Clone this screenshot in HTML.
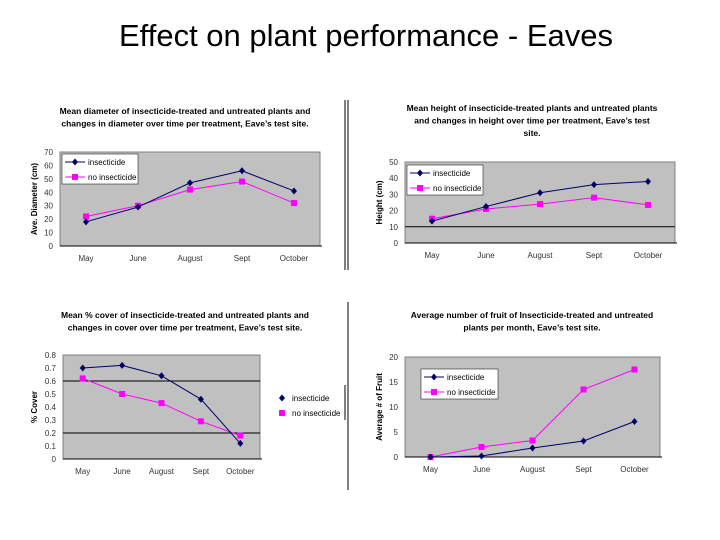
<!DOCTYPE html>
<html><head><meta charset="utf-8"><style>
body{margin:0;background:#fff;}
svg{display:block;font-family:"Liberation Sans",Arial,sans-serif;}
</style></head><body>
<svg id="s" width="720" height="540" xmlns="http://www.w3.org/2000/svg">
<text x="366" y="46" font-size="31" text-anchor="middle">Effect on plant performance - Eaves</text>
<line x1="345" y1="100" x2="345" y2="270" stroke="#000"/>
<line x1="348" y1="100" x2="348" y2="270" stroke="#000"/>
<line x1="348" y1="302" x2="348" y2="490" stroke="#000"/>
<line x1="345" y1="385" x2="345" y2="420" stroke="#000"/>
</svg>
<script>
const months=["May","June","August","Sept","October"];
const diamIns=[18,29,47,56,41];
const diamNo=[22,30,42,48,32];
const heightIns=[13.5,22.5,31,36,38];
const heightNo=[15,21,24,28,23.5];
const coverIns=[0.70,0.72,0.64,0.46,0.12];
const coverNo=[0.62,0.50,0.43,0.29,0.18];
const fruitIns=[0,0.2,1.8,3.2,7.1];
const fruitNo=[0,2.0,3.3,13.5,17.5];
const diamTicks=[0,10,20,30,40,50,60,70];
const heightTicks=[0,10,20,30,40,50];
const coverTicks=[0,0.1,0.2,0.3,0.4,0.5,0.6,0.7,0.8];
const fruitTicks=[0,5,10,15,20];

const svg=document.getElementById('s');
const NS='http://www.w3.org/2000/svg';
function mk(tag,attrs,parent){const e=document.createElementNS(NS,tag);for(const k in attrs)e.setAttribute(k,attrs[k]);(parent||svg).appendChild(e);return e;}

function chart(c){
  const g=mk('g',{});
  
  
  const {x0,x1,y0,y1,max}=c;
  const sx=i=>x0+(x1-x0)*(i+0.5)/months.length;
  const sy=v=>y1-(y1-y0)*v/max;
  c.title.forEach((t,i)=>{const e=mk('text',{x:c.tx,y:c.ty+i*12.5,'font-size':8.5,'font-weight':'bold','text-anchor':'middle'},g);e.textContent=t;
    });
  const r=mk('rect',{x:x0,y:y0,width:x1-x0,height:y1-y0,fill:'#c0c0c0',stroke:'#808080','stroke-width':1},g);
  
  (c.grid||[]).forEach(v=>{const l=mk('line',{x1:x0,x2:x1,y1:sy(v),y2:sy(v),stroke:'#000','stroke-width':1},g);
    });
  mk('line',{x1:x0,x2:x1+2,y1:y1,y2:y1,stroke:'#000'},g);
  c.ticks.forEach(v=>{const e=mk('text',{x:x0-7,y:sy(v)+3,'font-size':8,'text-anchor':'end',fill:'#333'},g);e.textContent=String(v);
    });
  months.forEach((m,i)=>{const e=mk('text',{x:sx(i),y:y1+15,'font-size':8,'text-anchor':'middle',fill:'#333'},g);e.textContent=m;
    });
  const yt=mk('text',{x:0,y:0,'font-size':8,'font-weight':'bold','text-anchor':'middle',transform:`translate(${c.ytx},${(y0+y1)/2}) rotate(-90)`},g);
  yt.textContent=c.ytitle;
  function series(vals,color,shape,nm){
    const p=mk('polyline',{points:vals.map((v,i)=>sx(i)+','+sy(v)).join(' '),fill:'none',stroke:color,'stroke-width':1},g);
    
    vals.forEach((v,i)=>{let m;
      if(shape==='sq') m=mk('rect',{x:sx(i)-3,y:sy(v)-3,width:6,height:6,fill:color},g);
      else m=mk('polygon',{points:`${sx(i)},${sy(v)-3.5} ${sx(i)+3},${sy(v)} ${sx(i)},${sy(v)+3.5} ${sx(i)-3},${sy(v)}`,fill:color},g);
      });
  }
  series(c.no,'#ff00ff','sq','no-insecticide');
  series(c.ins,'#000066','di','insecticide');
  const L=c.leg;
  if(L.box){const b=mk('rect',{x:L.x,y:L.y,width:L.w,height:30,fill:'#fff',stroke:'#000','stroke-width':0.5},g);
    }
  [['insecticide','#000066','di'],['no insecticide','#ff00ff','sq']].forEach((s,i)=>{
    const yy=L.y+8+i*15, mx=L.x+(L.lines?13:6);
    if(L.lines) mk('line',{x1:L.x+3,x2:L.x+23,y1:yy,y2:yy,stroke:s[1]},g);
    if(s[2]==='sq') mk('rect',{x:mx-3,y:yy-3,width:6,height:6,fill:s[1]},g);
    else mk('polygon',{points:`${mx},${yy-3.5} ${mx+3},${yy} ${mx},${yy+3.5} ${mx-3},${yy}`,fill:s[1]},g);
    const t=mk('text',{x:L.x+(L.lines?26:16),y:yy+3,'font-size':8},g);t.textContent=s[0];
    
  });
}
chart({name:'diameter-chart',x0:60,x1:320,y0:152,y1:246,max:70,ticks:diamTicks,ins:diamIns,no:diamNo,
  title:['Mean diameter of insecticide-treated and untreated plants and','changes in diameter over time per treatment, Eave\u2019s test site.'],tx:185,ty:114,
  ytitle:'Ave. Diameter (cm)',ytx:37,leg:{x:62,y:154,w:76,box:true,lines:true}});
chart({name:'height-chart',x0:405,x1:675,y0:162,y1:243,max:50,ticks:heightTicks,grid:[10],ins:heightIns,no:heightNo,
  title:['Mean height of insecticide-treated plants and untreated plants','and changes in height over time per treatment, Eave\u2019s test','site.'],tx:532,ty:111,
  ytitle:'Height (cm)',ytx:382,leg:{x:407,y:165,w:76,box:true,lines:true}});
chart({name:'cover-chart',x0:63,x1:260,y0:355,y1:459,max:0.8,ticks:coverTicks,grid:[0.2,0.6],ins:coverIns,no:coverNo,
  title:['Mean % cover of insecticide-treated and untreated plants and','changes in cover over time per treatment, Eave\u2019s test site.'],tx:185,ty:318,
  ytitle:'% Cover',ytx:37,leg:{x:276,y:390,w:70,box:false,lines:false}});
chart({name:'fruit-chart',x0:405,x1:660,y0:357,y1:457,max:20,ticks:fruitTicks,ins:fruitIns,no:fruitNo,
  title:['Average number of fruit of Insecticide-treated and untreated','plants per month, Eave\u2019s test site.'],tx:532,ty:318,
  ytitle:'Average # of Fruit',ytx:382,leg:{x:421,y:369,w:77,box:true,lines:true}});
</script>
</body></html>
